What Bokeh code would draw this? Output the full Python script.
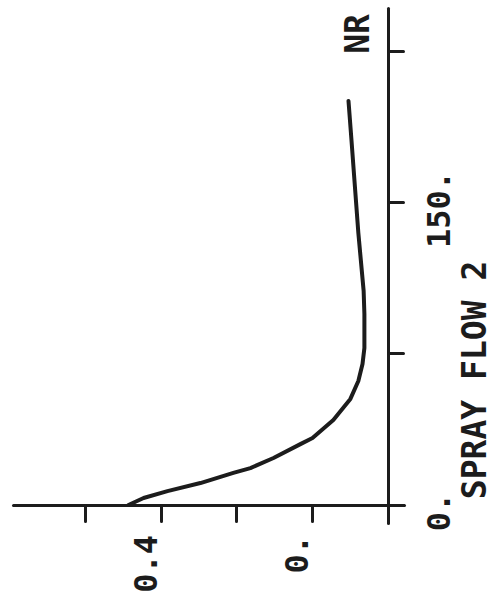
import math
from bokeh.plotting import figure
from bokeh.models import Range1d, LinearAxis, FixedTicker, Label, CustomLabelingPolicy
from bokeh.embed import file_html
from bokeh.resources import INLINE

# ---- data ----
spray_flow = [0, 3.5, 6.9, 10.9, 15.9, 18.3, 23.3, 30.2, 33.2, 42.1, 52.6,
              61.5, 69.9, 77.8, 94.7, 106.1, 134.9, 180.5, 200.3]
response = [0.486, 0.446, 0.383, 0.296, 0.209, 0.164, 0.103, 0.032, 0.0,
            -0.055, -0.100, -0.121, -0.132, -0.137, -0.137, -0.135, -0.121,
            -0.103, -0.095]

value_ticks = [-0.2, 0.0, 0.2, 0.4, 0.6]
value_tick_labels = {0.0: "0.", 0.4: "0.4"}
flow_ticks = [0, 75, 150, 225]
flow_tick_labels = {0: "0.", 150: "150."}
axis_title = "SPRAY FLOW 2"
corner_text = "NR"

# ---- layout / style ----
INK = "#1c1c1c"
FONT = "DejaVu Sans Mono"
PX_V = 378.75   # px per value unit
PX_F = 2.017    # px per flow unit

p = figure(width=494, height=606,
           x_range=Range1d(0.8238, -0.4805),
           y_range=Range1d(-50.3, 250.1),
           output_backend="svg", toolbar_location=None,
           x_axis_location=None, y_axis_location=None,
           min_border=0, title=None)
p.xgrid.visible = False
p.ygrid.visible = False
p.outline_line_color = None
p.background_fill_color = "white"
p.border_fill_color = "white"

hide_all = CustomLabelingPolicy(code="""
for (const i of indices)
  indices.unset(i)
return indices
""")

common = dict(axis_line_width=3, axis_line_color=INK,
              major_tick_line_width=3, major_tick_line_color=INK,
              major_tick_in=0, minor_tick_in=0, minor_tick_out=0,
              axis_line_cap="round", major_tick_line_cap="round")

vax = LinearAxis(fixed_location=0, ticker=FixedTicker(ticks=value_ticks),
                 bounds=(-0.243, 0.789), major_tick_out=16,
                 major_label_policy=hide_all, **common)
p.add_layout(vax, "below")

fax = LinearAxis(fixed_location=-0.2, ticker=FixedTicker(ticks=flow_ticks),
                 bounds=(-9.2, 246.2), major_tick_out=15,
                 major_label_policy=hide_all, **common)
p.add_layout(fax, "right")

p.line(x=response, y=spray_flow, line_width=4, line_color=INK,
       line_join="round", line_cap="round")

def lab(x, y, text, size, align):
    p.add_layout(Label(x=x, y=y, text=text, angle=math.pi / 2,
                       text_align=align, text_baseline="alphabetic",
                       text_font=FONT, text_font_style="bold",
                       text_font_size=size, text_color=INK))

for t, s in value_tick_labels.items():
    lab(t + 16 / PX_V, -30 / PX_F, s, "32px", "right")

for t, s in flow_tick_labels.items():
    lab(-0.2 - 50 / PX_V, t - 7 / PX_F, s, "32px", "center")

lab(-0.2 - 86 / PX_V, 62, axis_title, "33px", "center")
lab(-0.2 + 31 / PX_V, 233.5, corner_text, "33px", "center")

open("out.html", "w").write(file_html(p, INLINE))
